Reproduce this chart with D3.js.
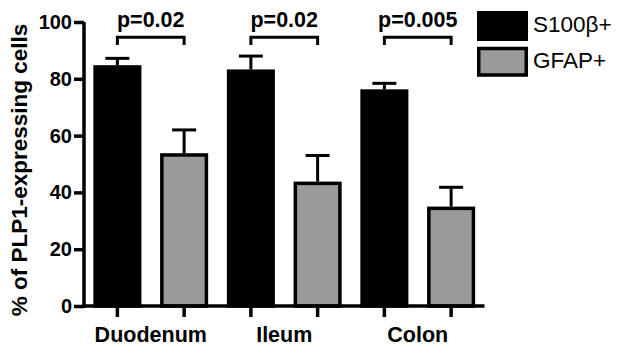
<!DOCTYPE html>
<html><head><meta charset="utf-8">
<script src="https://cdn.jsdelivr.net/npm/d3@7"></script>
<style>
html,body{margin:0;padding:0;background:#fff;}
svg{display:block;font-family:Arial,"Liberation Sans",sans-serif;}
</style></head>
<body>
<svg id="chart" width="621" height="352"></svg>
<script>
const categories = ["Duodenum", "Ileum", "Colon"];
const seriesNames = ["S100β+", "GFAP+"];
const s100Values = [84.8, 83.3, 76.3];
const s100Errors = [2.4, 4.7, 2.1];
const gfapValues = [53.8, 43.8, 35.0];
const gfapErrors = [8.2, 9.2, 6.8];
const pLabels = ["p=0.02", "p=0.02", "p=0.005"];
const yTicks = [0, 20, 40, 60, 80, 100];
const yTitle = "% of PLP1-expressing cells";

const colors = {"S100β+": "#000000", "GFAP+": "#9a9a9a"};
const svg = d3.select("#chart");
const W = 3.5;

const y = d3.scaleLinear().domain([0, 100]).range([306, 22]);
const x0 = d3.scaleBand().domain(categories).range([84, 484.5]).paddingInner(0).paddingOuter(0);
const x1 = d3.scaleBand().domain(seriesNames).range([0, x0.bandwidth()]).paddingInner(0.28).paddingOuter(0.14);

const rows = [];
categories.forEach((c, i) => {
  rows.push({cat: c, s: seriesNames[0], v: s100Values[i], e: s100Errors[i]});
  rows.push({cat: c, s: seriesNames[1], v: gfapValues[i], e: gfapErrors[i]});
});
const cx = d => x0(d.cat) + x1(d.s) + x1.bandwidth() / 2;

// error bars (upper only)
const eb = svg.append("g").attr("stroke", "#000").attr("stroke-width", 3);
eb.selectAll("line.v").data(rows).join("line")
  .attr("x1", cx).attr("x2", cx)
  .attr("y1", d => y(d.v)).attr("y2", d => y(d.v + d.e));
eb.selectAll("line.c").data(rows).join("line")
  .attr("x1", d => cx(d) - 12).attr("x2", d => cx(d) + 12)
  .attr("y1", d => y(d.v + d.e)).attr("y2", d => y(d.v + d.e));

// bars
svg.append("g").selectAll("rect").data(rows).join("rect")
  .attr("x", d => x0(d.cat) + x1(d.s) + W / 2)
  .attr("width", x1.bandwidth() - W)
  .attr("y", d => y(d.v) + W / 2)
  .attr("height", d => y(0) - y(d.v) - W / 2)
  .attr("fill", d => colors[d.s])
  .attr("stroke", "#000").attr("stroke-width", W);

// y axis
const yAxis = svg.append("g").attr("transform", "translate(84,0)")
  .call(d3.axisLeft(y).tickValues(yTicks).tickSize(10).tickSizeOuter(0).tickPadding(2));
yAxis.select(".domain").attr("stroke-width", W).attr("d", `M0,${y(100)}V${y(0) + 1.75}`);
yAxis.selectAll(".tick line").attr("stroke-width", W);
yAxis.selectAll(".tick text").attr("font-size", 20).attr("font-weight", "bold")
  .attr("font-family", "Arial, 'Liberation Sans', sans-serif").attr("fill", "#000");

// x axis line + ticks at bar centers
svg.append("line").attr("x1", 84 - 1.75).attr("x2", x0.range()[1])
  .attr("y1", y(0)).attr("y2", y(0)).attr("stroke", "#000").attr("stroke-width", W);
svg.append("g").selectAll("line").data(rows).join("line")
  .attr("x1", cx).attr("x2", cx).attr("y1", y(0)).attr("y2", y(0) + 11)
  .attr("stroke", "#000").attr("stroke-width", W);

// category labels
const xAxis = svg.append("g").attr("transform", `translate(0,${y(0)})`)
  .call(d3.axisBottom(x0).tickSize(0).tickPadding(21));
xAxis.select(".domain").remove();
xAxis.selectAll(".tick text").attr("font-size", 21.5).attr("font-weight", "bold")
  .attr("font-family", "Arial, 'Liberation Sans', sans-serif").attr("fill", "#000");

// y title
svg.append("text")
  .attr("transform", `translate(27,${(18 + 322) / 2}) rotate(-90)`)
  .attr("text-anchor", "middle").attr("font-size", 22.5).attr("font-weight", "bold")
  .text(yTitle);

// significance brackets
categories.forEach((c, i) => {
  const a = x0(c) + x1(seriesNames[0]) + x1.bandwidth() / 2;
  const b = x0(c) + x1(seriesNames[1]) + x1.bandwidth() / 2;
  const top = y(94.6), bot = y(91.9);
  svg.append("path").attr("d", `M${a},${bot}V${top}H${b}V${bot}`)
    .attr("fill", "none").attr("stroke", "#000").attr("stroke-width", 3);
  svg.append("text").attr("x", (a + b) / 2).attr("y", y(98.3))
    .attr("text-anchor", "middle").attr("font-size", 21.5).attr("font-weight", "bold")
    .text(pLabels[i]);
});

// legend
const leg = svg.append("g");
seriesNames.forEach((s, i) => {
  leg.append("rect").attr("x", 478.75).attr("y", 12.75 + i * 35.75)
    .attr("width", 47.5).attr("height", 26.5)
    .attr("fill", colors[s]).attr("stroke", "#000").attr("stroke-width", W);
  leg.append("text").attr("x", 533).attr("y", 32 + i * 35.5)
    .attr("font-size", 22.5).text(s);
});
</script>
</body></html>
